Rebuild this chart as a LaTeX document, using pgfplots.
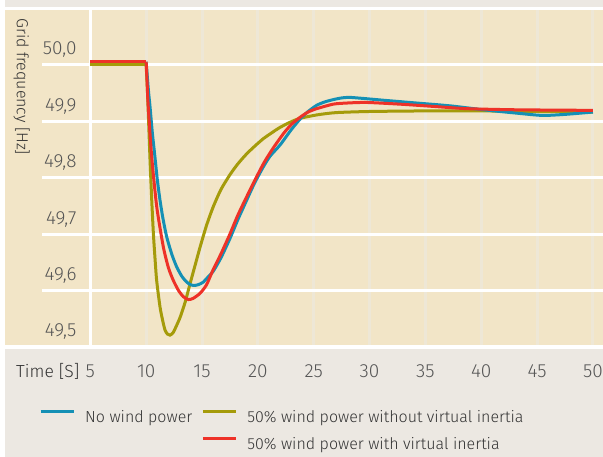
\documentclass[border=0pt]{standalone}
\usepackage{pgfplots}
\pgfplotsset{compat=1.18}
\usepackage{fontspec}
\setmainfont{Fira Sans}[UprightFont={* Light}]
\definecolor{beige}{HTML}{F2E5C7}
\definecolor{panelgray}{HTML}{ECE8E2}
\definecolor{faint}{HTML}{EEE7D6}
\definecolor{cblue}{HTML}{1590B5}
\definecolor{colive}{HTML}{A59B0A}
\definecolor{cred}{HTML}{EE3228}
\definecolor{txtdark}{HTML}{333333}
\definecolor{tickgray}{HTML}{555555}
\begin{document}
\begin{tikzpicture}
\fill[white] (0pt,0pt) rectangle (603pt,457pt);
\fill[panelgray] (5pt,450pt) rectangle (603pt,457pt);
\fill[beige] (5pt,111.7pt) rectangle (603pt,447pt);
\fill[panelgray] (5pt,0pt) rectangle (603pt,108.3pt);
\node[rotate=-90, anchor=base west, inner sep=0pt, font=\fontsize{16}{19}\selectfont, text=txtdark] at (17pt,439pt) {Grid frequency [Hz]};
\node[anchor=base west, inner sep=0pt, font=\fontsize{17.5}{20}\selectfont, text=txtdark] at (16pt,79pt) {Time [S]};
\begin{axis}[
  at={(42pt,110pt)}, anchor=south west, scale only axis,
  width=561pt, height=337pt,
  xmin=0.676, xmax=50.9, ymin=49.5, ymax=50.0967,
  axis line style={draw=none}, major tick length=0pt,
  xtick={5,10,...,50}, ytick={49.5,49.6,...,50.0},
  xmajorgrids, ymajorgrids,
  x grid style={faint, line width=3pt},
  y grid style={white, line width=3pt},
  /pgf/number format/assume math mode=true,
  yticklabel={\pgfmathprintnumber[fixed,fixed zerofill,precision=1,use comma]{\tick}},
  yticklabel style={anchor=base east, inner sep=0pt, xshift=34.7pt, yshift=10pt, font=\fontsize{19}{22}\selectfont, text=tickgray},
  xticklabel style={anchor=center, inner sep=0pt, yshift=-24pt, font=\fontsize{19}{22}\selectfont, text=tickgray},
  legend columns=2,
  legend cell align=left,
  legend style={at={(axis description cs:-0.0054,-0.184)}, anchor=north west, draw=none, fill=none, inner sep=0pt, row sep=10pt,
    font=\fontsize{16}{19}\selectfont, text=txtdark,
    nodes={inner sep=0pt, text height=13pt, text depth=4pt},
    /tikz/every odd column/.append style={column sep=10pt},
    /tikz/every even column/.append style={column sep=9pt}},
  legend image code/.code={\draw[#1, line width=3pt] (0pt,6pt) -- (33pt,6pt);},
]
\draw[white, line width=3pt] (axis cs:5,49.5) -- (axis cs:5,50.0967);
% olive
\addplot[colive, line width=3pt, forget plot] coordinates {(5,50.0) (10,50.0)};
\addplot[colive, line width=3pt, smooth, tension=0.4, forget plot] coordinates {
(10,50.0) (10.1,49.96) (10.2,49.91) (10.35,49.83) (10.5,49.76) (10.65,49.70) (10.8,49.655) (10.94,49.618)
(11.24,49.571) (11.5,49.545) (11.69,49.530) (11.9,49.523) (12.13,49.521) (12.4,49.525) (12.7,49.537)
(13.05,49.553) (13.5,49.580) (13.93,49.612) (14.4,49.646) (14.83,49.677) (15.4,49.715) (16.0,49.748)
(16.7,49.779) (17.5,49.805) (18.2,49.824) (19.0,49.842) (19.8,49.857) (20.5,49.869) (21.3,49.880)
(22.0,49.889) (23.0,49.899) (23.8,49.905) (25.3,49.911) (27.0,49.915) (30.0,49.917) (35.0,49.918)
(40.0,49.918) (45.0,49.917) (50.0,49.916)};
% blue
\addplot[cblue, line width=3pt, forget plot] coordinates {(5,50.005) (10,50.005)};
\addplot[cblue, line width=3pt, smooth, tension=0.4, forget plot] coordinates {
(10,50.005) (10.2,49.955) (10.35,49.925) (10.55,49.88) (10.79,49.836) (11.0,49.796) (11.24,49.760)
(11.5,49.728) (11.84,49.695) (12.3,49.664) (12.73,49.642) (13.2,49.625) (13.63,49.615) (14.0,49.610)
(14.37,49.609) (14.75,49.611) (15.12,49.615) (15.5,49.623) (16.0,49.634) (16.7,49.658) (17.5,49.692)
(18.2,49.725) (19.0,49.760) (19.7,49.790) (20.49,49.819) (21.1,49.838) (22.0,49.858) (23.0,49.885)
(23.8,49.904) (24.5,49.917) (25.27,49.928) (26.0,49.934) (26.75,49.938) (27.5,49.941) (28.2,49.942)
(29.5,49.940) (31.2,49.937) (34.2,49.932) (37.2,49.927) (40.2,49.920) (43.2,49.914) (45.5,49.910)
(47.6,49.912) (50,49.916)};
% red
\addplot[cred, line width=3pt, forget plot] coordinates {(5,50.005) (10,50.005)};
\addplot[cred, line width=3pt, smooth, tension=0.4, forget plot] coordinates {
(10,50.005) (10.05,49.985) (10.19,49.925) (10.5,49.836) (10.95,49.748) (11.54,49.677) (12.0,49.640)
(12.43,49.618) (12.9,49.600) (13.33,49.589) (13.77,49.584) (14.2,49.586) (14.82,49.595) (15.4,49.610)
(16.0,49.637) (16.7,49.665) (17.5,49.700) (18.2,49.733) (19.0,49.766) (19.8,49.798) (20.6,49.828)
(21.4,49.853) (22.3,49.878) (23.0,49.894) (23.8,49.907) (24.5,49.916) (25.27,49.922) (26.75,49.930)
(28.0,49.932) (29.7,49.933) (32.7,49.930) (35.7,49.926) (38.7,49.922) (43.2,49.920) (50,49.919)};
\addlegendimage{cblue}
\addlegendentry{No wind power}
\addlegendimage{colive}
\addlegendentry{50\% wind power without virtual inertia}
\addlegendimage{empty legend}
\addlegendentry{}
\addlegendimage{cred}
\addlegendentry{50\% wind power with virtual inertia}
\end{axis}
\pgfresetboundingbox
\useasboundingbox (0pt,0pt) rectangle (603pt,457pt);
\end{tikzpicture}
\end{document}
